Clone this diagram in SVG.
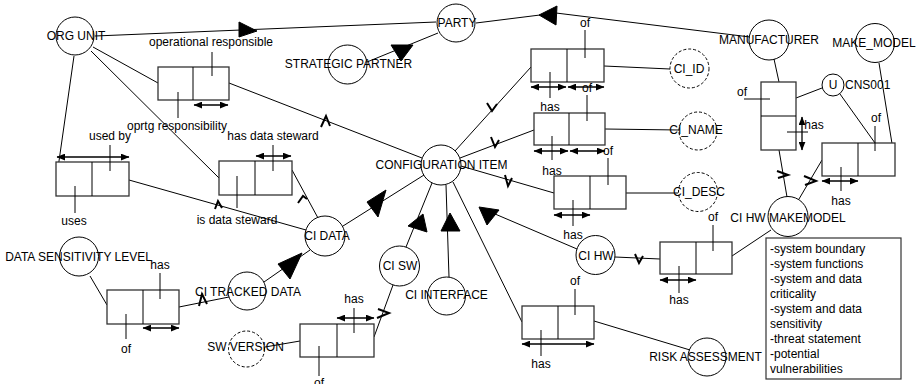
<svg xmlns="http://www.w3.org/2000/svg" width="923" height="384" viewBox="0 0 923 384">
<defs>
  <marker id="ah" viewBox="0 0 10 8" refX="9.5" refY="4" markerWidth="9" markerHeight="7" markerUnits="userSpaceOnUse" orient="auto-start-reverse">
    <path d="M0,0 L10,4 L0,8 z" fill="#000"/>
  </marker>
  <style>
    .ln{stroke:#000;stroke-width:1;fill:none}
    .c{fill:none;stroke:#000;stroke-width:1}
    .cd{fill:none;stroke:#000;stroke-width:1;stroke-dasharray:3 2}
    .bx{fill:#fff;stroke:#333;stroke-width:1.3}
    .tk{stroke:#000;stroke-width:1;fill:none}
    .da{stroke:#000;stroke-width:1.3;fill:none;marker-start:url(#ah);marker-end:url(#ah)}
    .mk{stroke:#000;stroke-width:2;fill:none;stroke-linejoin:miter}
    .tri{fill:#000;stroke:#000;stroke-width:1}
    text{font-family:"Liberation Sans",Arial,sans-serif;font-size:12px;fill:#000}
    .m{text-anchor:middle}
  </style>
</defs>
<rect width="923" height="384" fill="#fff"/>

<g id="connectors">
  <!-- ORG UNIT to PARTY -->
  <line class="ln" x1="95" y1="36" x2="436" y2="22"/>
  <polygon class="tri" points="239,22 239,37 257,31"/>
  <!-- PARTY to STRATEGIC PARTNER -->
  <line class="ln" x1="438" y1="33" x2="367" y2="62"/>
  <polygon class="tri" points="391,45 413,45 401,61"/>
  <!-- MANUFACTURER to PARTY -->
  <polyline class="ln" points="476,23 540,15"/>
  <line class="ln" x1="556" y1="13" x2="750" y2="37"/>
  <polygon class="tri" points="539,15 557,6 556,25"/>
  <!-- ORG UNIT links -->
  <line class="ln" x1="93" y1="47" x2="158" y2="83"/>
  <line class="ln" x1="91" y1="51" x2="219" y2="178"/>
  <line class="ln" x1="74" y1="56" x2="57" y2="175"/>
  <!-- operational responsibility box to CI -->
  <line class="ln" x1="229" y1="83" x2="422" y2="158"/>
  <polyline class="mk" points="321,127 326,116 330,126"/>
  <!-- used by box to CI DATA -->
  <line class="ln" x1="129" y1="180" x2="306" y2="230"/>
  <polyline class="mk" points="215,209 218,201 222,208"/>
  <!-- data steward box to CI DATA -->
  <line class="ln" x1="292" y1="170" x2="318" y2="218"/>
  <polyline class="mk" points="298,203 303,196 307,199"/>
  <!-- CI DATA to CI -->
  <line class="ln" x1="343" y1="226" x2="424" y2="175"/>
  <polygon class="tri" points="367,202 386,190 378,217"/>
  <!-- CI SW to CI -->
  <line class="ln" x1="406" y1="247" x2="432" y2="183"/>
  <polygon class="tri" points="423,214 408,226 427,232"/>
  <!-- CI INTERFACE to CI -->
  <line class="ln" x1="449" y1="277" x2="446" y2="185"/>
  <polygon class="tri" points="450,213 441,231 460,231"/>
  <!-- CI HW to CI -->
  <line class="ln" x1="577" y1="249" x2="481" y2="208"/>
  <polygon class="tri" points="479,207 499,210 487,225"/>
  <!-- CI to attribute boxes -->
  <line class="ln" x1="455" y1="151" x2="531" y2="67"/>
  <polyline class="mk" points="487,103 492,111 497,104"/>
  <line class="ln" x1="460" y1="158" x2="534" y2="130"/>
  <polyline class="mk" points="491,137 495,147 499,140"/>
  <line class="ln" x1="461" y1="166" x2="554" y2="193"/>
  <polyline class="mk" points="505,175 508,186 512,178"/>
  <line class="ln" x1="453" y1="182" x2="522" y2="322"/>
  <!-- attribute boxes to attributes -->
  <line class="ln" x1="604" y1="66" x2="670" y2="69"/>
  <line class="ln" x1="605" y1="129" x2="679" y2="130"/>
  <line class="ln" x1="626" y1="193" x2="678" y2="193"/>
  <line class="ln" x1="594" y1="321" x2="690" y2="350"/>
  <!-- CI HW links -->
  <line class="ln" x1="615" y1="257" x2="660" y2="259"/>
  <polyline class="mk" points="635,254 639,263 643,256"/>
  <line class="ln" x1="732" y1="256" x2="771" y2="230"/>
  <!-- manufacturer / make model -->
  <line class="ln" x1="774" y1="59" x2="779" y2="82"/>
  <line class="ln" x1="796" y1="98" x2="822" y2="88"/>
  <line class="ln" x1="840" y1="94" x2="875" y2="143"/>
  <line class="ln" x1="879" y1="63" x2="894" y2="156"/>
  <line class="ln" x1="779" y1="150" x2="787" y2="197"/>
  <polyline class="mk" points="777,171 788,175 778,178"/>
  <line class="ln" x1="822" y1="160" x2="799" y2="199"/>
  <polyline class="mk" points="804,176 816,181 805,185"/>
  <!-- data sensitivity -->
  <line class="ln" x1="90" y1="276" x2="107" y2="305"/>
  <line class="ln" x1="179" y1="307" x2="229" y2="297"/>
  <polyline class="mk" points="199,306 202,294 207,304"/>
  <!-- CI TRACKED DATA to CI DATA -->
  <line class="ln" x1="264" y1="282" x2="310" y2="250"/>
  <polygon class="tri" points="302,253 278,264 290,279"/>
  <!-- SW VERSION box -->
  <line class="ln" x1="300" y1="341" x2="265" y2="347"/>
  <line class="ln" x1="374" y1="337" x2="393" y2="285"/>
  <polyline class="mk" points="378,309 389,313 377,318"/>
</g>

<g id="org-unit"><circle class="c" cx="75" cy="36" r="19"/><text class="m" x="76" y="40">ORG UNIT</text></g>
<g id="party"><circle class="c" cx="456" cy="23" r="19"/><text class="m" x="457" y="27">PARTY</text></g>
<g id="strategic-partner"><circle class="c" cx="347.5" cy="64.5" r="19.5"/><text class="m" x="348.5" y="68">STRATEGIC PARTNER</text></g>
<g id="manufacturer"><circle class="c" cx="769" cy="40" r="20"/><text class="m" x="769" y="44">MANUFACTURER</text></g>
<g id="make-model"><circle class="c" cx="875" cy="43" r="19.5"/><text class="m" x="874" y="47">MAKE_MODEL</text></g>
<g id="cns001"><circle class="c" cx="833" cy="85" r="11"/><text class="m" x="833" y="89">U</text><text x="845" y="89">CNS001</text></g>
<g id="configuration-item"><circle class="c" cx="441" cy="165" r="20"/><text class="m" x="441.5" y="169">CONFIGURATION ITEM</text></g>
<g id="ci-data"><circle class="c" cx="325" cy="236" r="20"/><text class="m" x="327" y="240">CI DATA</text></g>
<g id="ci-sw"><circle class="c" cx="399.5" cy="266" r="20"/><text class="m" x="400" y="270">CI SW</text></g>
<g id="ci-interface"><circle class="c" cx="446.5" cy="296" r="19"/><text class="m" x="446.5" y="299">CI INTERFACE</text></g>
<g id="ci-hw"><circle class="c" cx="595.5" cy="255" r="19.5"/><text class="m" x="596" y="259.5">CI HW</text></g>
<g id="ci-hw-makemodel"><circle class="c" cx="788" cy="216.5" r="20"/><text class="m" x="788" y="222">CI HW MAKEMODEL</text></g>
<g id="ci-tracked-data"><circle class="c" cx="247" cy="291" r="19"/><text class="m" x="248" y="296">CI TRACKED DATA</text></g>
<g id="data-sensitivity-level"><circle class="c" cx="79" cy="256.5" r="19.5"/><text class="m" x="78.5" y="261">DATA SENSITIVITY LEVEL</text></g>
<g id="sw-version"><circle class="cd" cx="246.5" cy="349" r="18"/><text class="m" x="245.5" y="351">SW VERSION</text></g>
<g id="ci-id"><circle class="cd" cx="689.5" cy="68.5" r="19.5"/><text class="m" x="689" y="73">CI_ID</text></g>
<g id="ci-name"><circle class="cd" cx="698" cy="131" r="19"/><text class="m" x="696" y="134">CI_NAME</text></g>
<g id="ci-desc"><circle class="cd" cx="698" cy="192" r="19.5"/><text class="m" x="699" y="196">CI_DESC</text></g>
<g id="risk-assessment"><circle class="c" cx="707" cy="357" r="19"/><text class="m" x="705.5" y="361">RISK ASSESSMENT</text></g>

<g id="rel-operational">
  <rect class="bx" x="158" y="67" width="71" height="33"/><line class="tk" x1="193" y1="67" x2="193" y2="100"/>
  <line class="tk" x1="212" y1="52" x2="212" y2="76"/><line class="tk" x1="178" y1="92" x2="178" y2="118"/>
  <line class="da" x1="194" y1="105" x2="228" y2="105"/>
  <text class="m" x="211" y="46">operational responsible</text>
  <text class="m" x="177" y="130">oprtg responsibility</text>
</g>
<g id="rel-used-by">
  <rect class="bx" x="56" y="162" width="73" height="34"/><line class="tk" x1="92" y1="162" x2="92" y2="196"/>
  <line class="tk" x1="110" y1="145" x2="110" y2="171"/><line class="tk" x1="75" y1="186" x2="75" y2="213"/>
  <line class="da" x1="57" y1="157" x2="129" y2="157"/>
  <text class="m" x="110" y="140">used by</text>
  <text class="m" x="74" y="225">uses</text>
</g>
<g id="rel-data-steward">
  <rect class="bx" x="219" y="161" width="73" height="34"/><line class="tk" x1="255" y1="161" x2="255" y2="195"/>
  <line class="tk" x1="273" y1="145" x2="273" y2="171"/><line class="tk" x1="237" y1="176" x2="237" y2="208"/>
  <line class="da" x1="256" y1="156" x2="291" y2="156"/>
  <text class="m" x="273" y="140">has data steward</text>
  <text class="m" x="237" y="224">is data steward</text>
</g>
<g id="rel-ci-id">
  <rect class="bx" x="531" y="49" width="73" height="33"/><line class="tk" x1="567" y1="49" x2="567" y2="82"/>
  <line class="tk" x1="585" y1="30" x2="585" y2="58"/><line class="tk" x1="550" y1="72" x2="550" y2="98"/>
  <line class="da" x1="531" y1="87" x2="566" y2="87"/><line class="da" x1="568" y1="87" x2="604" y2="87"/>
  <text class="m" x="585" y="27">of</text>
  <text class="m" x="550" y="111">has</text>
</g>
<g id="rel-ci-name">
  <rect class="bx" x="534" y="113" width="71" height="32"/><line class="tk" x1="569" y1="113" x2="569" y2="145"/>
  <line class="tk" x1="587" y1="95" x2="587" y2="121"/><line class="tk" x1="552" y1="136" x2="552" y2="160"/>
  <line class="da" x1="534" y1="151" x2="568" y2="151"/><line class="da" x1="570" y1="151" x2="605" y2="151"/>
  <text class="m" x="587" y="91.5">of</text>
  <text class="m" x="552" y="175">has</text>
</g>
<g id="rel-ci-desc">
  <rect class="bx" x="554" y="176" width="72" height="33"/><line class="tk" x1="590" y1="176" x2="590" y2="209"/>
  <line class="tk" x1="608" y1="158" x2="608" y2="185"/><line class="tk" x1="573" y1="200" x2="573" y2="226"/>
  <line class="da" x1="554" y1="215" x2="590" y2="215"/>
  <text class="m" x="608" y="155">of</text>
  <text class="m" x="573" y="239">has</text>
</g>
<g id="rel-ci-hw">
  <rect class="bx" x="660" y="242" width="72" height="32"/><line class="tk" x1="696" y1="242" x2="696" y2="274"/>
  <line class="tk" x1="713" y1="225" x2="713" y2="251"/><line class="tk" x1="679" y1="266" x2="679" y2="293"/>
  <line class="da" x1="660" y1="280" x2="696" y2="280"/>
  <text class="m" x="713" y="221">of</text>
  <text class="m" x="679" y="304">has</text>
</g>
<g id="rel-risk">
  <rect class="bx" x="522" y="306" width="72" height="33"/><line class="tk" x1="558" y1="306" x2="558" y2="339"/>
  <line class="tk" x1="575" y1="289" x2="575" y2="315"/><line class="tk" x1="541" y1="330" x2="541" y2="356"/>
  <line class="da" x1="522" y1="344" x2="594" y2="344"/>
  <text class="m" x="575" y="285">of</text>
  <text class="m" x="541" y="368">has</text>
</g>
<g id="rel-manufacturer">
  <rect class="bx" x="761" y="82" width="35" height="68"/><line class="tk" x1="761" y1="116" x2="796" y2="116"/>
  <line class="tk" x1="744" y1="99" x2="770" y2="99"/><line class="tk" x1="787" y1="132" x2="808" y2="132"/>
  <line class="da" x1="802" y1="117" x2="802" y2="150"/>
  <text class="m" x="742" y="96">of</text>
  <text class="m" x="814" y="129">has</text>
</g>
<g id="rel-make-model">
  <rect class="bx" x="822" y="143" width="73" height="33"/><line class="tk" x1="858" y1="143" x2="858" y2="176"/>
  <line class="tk" x1="875" y1="126" x2="875" y2="151"/><line class="tk" x1="841" y1="167" x2="841" y2="191"/>
  <line class="da" x1="822" y1="181" x2="858" y2="181"/>
  <text class="m" x="876" y="121.5">of</text>
  <text class="m" x="841" y="205">has</text>
</g>
<g id="rel-data-sensitivity">
  <rect class="bx" x="107" y="290" width="72" height="34"/><line class="tk" x1="143" y1="290" x2="143" y2="324"/>
  <line class="tk" x1="160" y1="273" x2="160" y2="299"/><line class="tk" x1="126" y1="314" x2="126" y2="339"/>
  <line class="da" x1="143" y1="328" x2="179" y2="328"/>
  <text class="m" x="160" y="269">has</text>
  <text class="m" x="126" y="353">of</text>
</g>
<g id="rel-sw-version">
  <rect class="bx" x="300" y="324" width="74" height="33"/><line class="tk" x1="337" y1="324" x2="337" y2="357"/>
  <line class="tk" x1="354" y1="308" x2="354" y2="333"/><line class="tk" x1="319" y1="346" x2="319" y2="376"/>
  <line class="da" x1="337" y1="318" x2="374" y2="318"/>
  <text class="m" x="354" y="303">has</text>
  <text class="m" x="319" y="387">of</text>
</g>

<g id="risk-note">
  <rect x="766" y="238" width="135" height="141" fill="#fff" stroke="#333" stroke-width="1.2"/>
  <text x="770" y="253">-system boundary</text>
  <text x="770" y="268">-system functions</text>
  <text x="770" y="283">-system and data</text>
  <text x="770" y="298">criticality</text>
  <text x="770" y="313">-system and data</text>
  <text x="770" y="328">sensitivity</text>
  <text x="770" y="343">-threat statement</text>
  <text x="770" y="358">-potential</text>
  <text x="770" y="373">vulnerabilities</text>
</g>
</svg>
